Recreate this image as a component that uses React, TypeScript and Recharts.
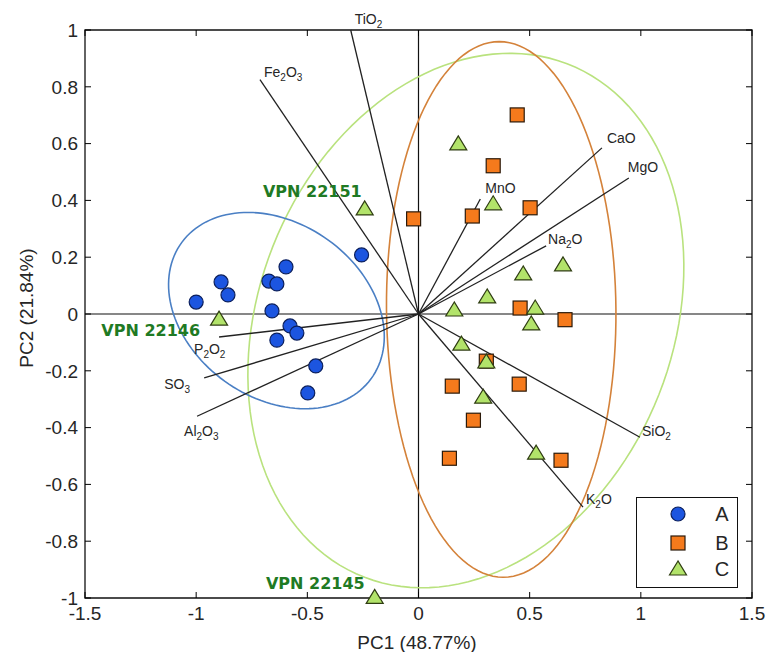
import React from "react";
import {
    ScatterChart,
    Scatter,
    XAxis,
    YAxis,
    ReferenceLine,
    ReferenceArea,
    Legend,
} from "recharts";

// scores
const A_PC1 = [-0.256, -0.596, -0.888, -0.857, -1.0, -0.673, -0.637, -0.659, -0.578, -0.547, -0.637, -0.462, -0.498];
const A_PC2 = [0.208, 0.166, 0.113, 0.067, 0.042, 0.116, 0.106, 0.011, -0.042, -0.067, -0.092, -0.183, -0.278];

const B_PC1 = [0.444, 0.336, 0.242, 0.502, -0.022, 0.457, 0.659, 0.305, 0.152, 0.453, 0.247, 0.139, 0.641];
const B_PC2 = [0.701, 0.522, 0.345, 0.374, 0.335, 0.021, -0.02, -0.166, -0.254, -0.247, -0.374, -0.508, -0.515];

const C_PC1 = [-0.242, 0.179, 0.336, 0.65, 0.471, 0.309, 0.161, 0.525, 0.507, 0.193, 0.305, 0.291, 0.529, -0.897, -0.197];
const C_PC2 = [0.37, 0.599, 0.388, 0.173, 0.141, 0.06, 0.014, 0.021, -0.035, -0.106, -0.169, -0.293, -0.49, -0.018, -0.998];

// loadings
const LOAD_NAMES = ["TiO2", "Fe2O3", "MnO", "CaO", "MgO", "Na2O", "SiO2", "K2O", "P2O2", "SO3", "Al2O3"];
const LOAD_PC1 = [-0.305, -0.713, 0.278, 0.825, 0.946, 0.574, 0.996, 0.74, -0.897, -0.964, -0.996];
const LOAD_PC2 = [1.0, 0.825, 0.405, 0.585, 0.479, 0.24, -0.434, -0.68, -0.081, -0.225, -0.36];

// highlighted samples (index into group C)
const VPN_NAMES = ["VPN 22151", "VPN 22146", "VPN 22145"];
const VPN_IDX = [0, 13, 14];

// confidence ellipses: centre + two axis vectors
const ELL_A = { cx: -0.639, cy: 0.012, ax: 0.478, ay: -0.033, bx: -0.083, by: 0.344 };
const ELL_B = { cx: 0.372, cy: 0.016, ax: 0.516, ay: 0.0, bx: -0.009, by: 0.943 };
const ELL_C = { cx: 0.213, cy: -0.023, ax: 0.973, ay: 0.074, bx: 0.121, by: 0.938 };

const X_TICKS = [-1.5, -1, -0.5, 0, 0.5, 1, 1.5];
const Y_TICKS = [-1, -0.8, -0.6, -0.4, -0.2, 0, 0.2, 0.4, 0.6, 0.8, 1];

const GROUPS = ["A", "B", "C"];

// layout
const W = 766;
const H = 652;
const PLOT = { left: 85, right: 752, top: 30, bottom: 598 };
const FONT = "'Liberation Sans', Arial, sans-serif";
const TEXT = "#262626";

const LABEL_OFF: Record<string, [number, number]> = {
    TiO2: [4, -6],
    Fe2O3: [4, -3],
    MnO: [5, -6],
    CaO: [5, -5],
    MgO: [-1, -6],
    Na2O: [2, -2],
    SiO2: [2, -1],
    K2O: [3, -3],
    P2O2: [-25, 17],
    SO3: [-40, 11],
    Al2O3: [-13, 20],
};
const VPN_OFF: [number, number][] = [
    [-3, -12],
    [-19, 17],
    [-10, -8],
];

const zip = (xs: number[], ys: number[]) => xs.map((x, i) => ({ x, y: ys[i] }));

function ellipse(e: typeof ELL_A) {
    const pts = [];
    const n = 140;
    for (let i = 0; i <= n; i++) {
        const t = (2 * Math.PI * i) / n;
        pts.push({
            x: e.cx + e.ax * Math.cos(t) + e.bx * Math.sin(t),
            y: e.cy + e.ay * Math.cos(t) + e.by * Math.sin(t),
        });
    }
    return pts;
}

const aData = zip(A_PC1, A_PC2);
const bData = zip(B_PC1, B_PC2);
const cData = zip(C_PC1, C_PC2);
const loadEnds = LOAD_NAMES.map((name, i) => ({ name, x: LOAD_PC1[i], y: LOAD_PC2[i] }));
const vpnData = VPN_NAMES.map((name, i) => ({ name, k: i, x: C_PC1[VPN_IDX[i]], y: C_PC2[VPN_IDX[i]] }));

const noShape = () => <g />;

function Circle({ cx, cy }: any) {
    return <circle cx={cx} cy={cy} r={7} fill="#1c55e0" stroke="#0b1f5c" strokeWidth={1.2} />;
}
function Square({ cx, cy }: any) {
    return <rect x={cx - 7} y={cy - 7} width={14} height={14} fill="#f57a1c" stroke="#2b1a0a" strokeWidth={1.2} />;
}
function Triangle({ cx, cy }: any) {
    return (
        <polygon
            points={`${cx},${cy - 8} ${cx - 8.5},${cy + 6} ${cx + 8.5},${cy + 6}`}
            fill="#b2e36a"
            stroke="#2f3d12"
            strokeWidth={1.2}
        />
    );
}

// chemical formula with subscript digits
function Chem({ x, y, name }: { x: number; y: number; name: string }) {
    const parts = name.split(/(\d)/).filter((p) => p !== "");
    let down = false;
    return (
        <text x={x} y={y} fontSize={14} fontFamily={FONT} fill={TEXT}>
            {parts.map((p, i) => {
                const isSub = /\d/.test(p);
                const dy = isSub ? (down ? 0 : 4) : down ? -4 : 0;
                down = isSub;
                return (
                    <tspan key={i} dy={dy} fontSize={isSub ? 10 : 14}>
                        {p}
                    </tspan>
                );
            })}
        </text>
    );
}

function LoadLabel({ cx, cy, payload }: any) {
    const [dx, dy] = LABEL_OFF[payload.name] || [0, 0];
    return <Chem x={cx + dx} y={cy + dy} name={payload.name} />;
}

function VpnLabel({ cx, cy, payload }: any) {
    const [dx, dy] = VPN_OFF[payload.k];
    return (
        <text
            x={cx + dx}
            y={cy + dy}
            textAnchor="end"
            fontSize={16}
            fontWeight="bold"
            fontFamily="'DejaVu Sans', sans-serif"
            fill="#1f7a24"
        >
            {payload.name}
        </text>
    );
}

function XTick({ x, y, payload }: any) {
    return (
        <g>
            <line x1={x} x2={x} y1={PLOT.bottom} y2={PLOT.bottom - 6} stroke="#000" />
            <line x1={x} x2={x} y1={PLOT.top} y2={PLOT.top + 6} stroke="#000" />
            <text x={x} y={y} dy="0.71em" textAnchor="middle" fontSize={19} fontFamily={FONT} fill={TEXT}>
                {payload.value}
            </text>
        </g>
    );
}

function YTick({ x, y, payload }: any) {
    return (
        <g>
            <line x1={PLOT.left} x2={PLOT.left + 6} y1={y} y2={y} stroke="#000" />
            <line x1={PLOT.right} x2={PLOT.right - 6} y1={y} y2={y} stroke="#000" />
            <text x={x} y={y} dy="0.355em" textAnchor="end" fontSize={19} fontFamily={FONT} fill={TEXT}>
                {payload.value}
            </text>
        </g>
    );
}

function LegendBox() {
    const marks = [Circle, Square, Triangle];
    return (
        <div
            style={{
                width: 102,
                height: 91,
                boxSizing: "border-box",
                border: "1.5px solid #111",
                background: "#fff",
            }}
        >
            <svg width={99} height={88}>
                {GROUPS.map((g, i) => {
                    const M = marks[i];
                    const cy = [16, 45, 71][i];
                    return (
                        <g key={g}>
                            <M cx={41} cy={cy} />
                            <text x={85} y={cy} dy="0.36em" textAnchor="middle" fontSize={20} fontFamily={FONT} fill={TEXT}>
                                {g}
                            </text>
                        </g>
                    );
                })}
            </svg>
        </div>
    );
}

export default function App() {
    return (
        <div style={{ position: "absolute", left: 0, top: 0, background: "#fff" }}>
            <ScatterChart width={W} height={H} margin={{ top: 30, right: 14, bottom: 0, left: 0 }}>
                <XAxis
                    type="number"
                    dataKey="x"
                    domain={[-1.5, 1.5]}
                    ticks={X_TICKS}
                    height={54}
                    axisLine={false}
                    tickLine={false}
                    tickSize={0}
                    tickMargin={9}
                    tick={<XTick />}
                    label={{
                        content: () => (
                            <text x={417} y={649} textAnchor="middle" fontSize={19} fontFamily={FONT} fill={TEXT}>
                                PC1 (48.77%)
                            </text>
                        ),
                    }}
                />
                <YAxis
                    type="number"
                    dataKey="y"
                    domain={[-1, 1]}
                    ticks={Y_TICKS}
                    width={85}
                    axisLine={false}
                    tickLine={false}
                    tickSize={0}
                    tickMargin={7}
                    tick={<YTick />}
                    label={{
                        content: () => (
                            <text
                                x={26}
                                y={308}
                                transform="rotate(-90 26 308)"
                                textAnchor="middle"
                                dominantBaseline="central"
                                fontSize={19}
                                fontFamily={FONT}
                                fill={TEXT}
                            >
                                PC2 (21.84%)
                            </text>
                        ),
                    }}
                />
                <ReferenceArea x1={-1.5} x2={1.5} y1={-1} y2={1} fill="none" stroke="#111" strokeWidth={1.3} />
                <ReferenceLine x={0} stroke="#111" strokeWidth={1.2} />
                <ReferenceLine y={0} stroke="#111" strokeWidth={1.2} />

                <Scatter data={ellipse(ELL_C)} line={{ stroke: "#b9e27e", strokeWidth: 1.6 }} lineType="joint" shape={noShape} isAnimationActive={false} legendType="none" />
                <Scatter data={ellipse(ELL_B)} line={{ stroke: "#d4823a", strokeWidth: 1.6 }} lineType="joint" shape={noShape} isAnimationActive={false} legendType="none" />
                <Scatter data={ellipse(ELL_A)} line={{ stroke: "#4a7fc4", strokeWidth: 1.6 }} lineType="joint" shape={noShape} isAnimationActive={false} legendType="none" />

                {loadEnds.map((d) => (
                    <Scatter
                        key={d.name}
                        data={[{ x: 0, y: 0 }, { x: d.x, y: d.y }]}
                        line={{ stroke: "#222", strokeWidth: 1.3 }}
                        lineType="joint"
                        shape={noShape}
                        isAnimationActive={false}
                        legendType="none"
                    />
                ))}
                <Scatter data={loadEnds} shape={LoadLabel} isAnimationActive={false} legendType="none" />

                <Scatter name="A" data={aData} shape={Circle} isAnimationActive={false} />
                <Scatter name="B" data={bData} shape={Square} isAnimationActive={false} />
                <Scatter name="C" data={cData} shape={Triangle} isAnimationActive={false} />
                <Scatter data={vpnData} shape={VpnLabel} isAnimationActive={false} legendType="none" />

                <Legend
                    layout="vertical"
                    align="center"
                    verticalAlign="middle"
                    content={() => <LegendBox />}
                    wrapperStyle={{ left: 636, top: 497, width: 102, height: 91 }}
                />
            </ScatterChart>
        </div>
    );
}
